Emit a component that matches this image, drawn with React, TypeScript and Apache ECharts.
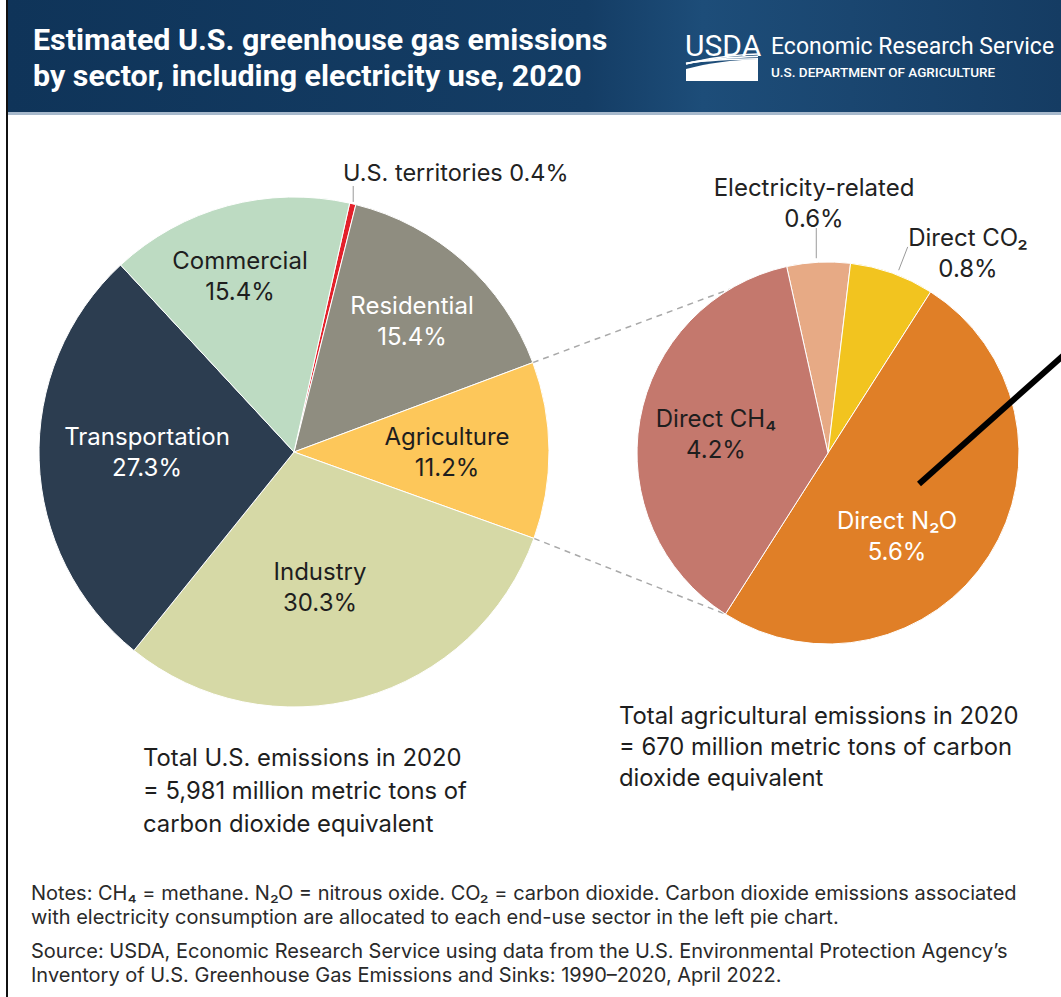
import React, { useEffect, useRef } from "react";
import * as echarts from "echarts";

// U.S. emissions by end-use sector, 2020 (percent of total)
const sectorNames = ["U.S. territories", "Residential", "Agriculture", "Industry", "Transportation", "Commercial"];
const sectorShares = [0.4, 15.4, 11.2, 30.3, 27.3, 15.4];
const sectorColors = ["#e3202a", "#8f8d80", "#fdc75a", "#d6d9a6", "#2c3d50", "#bddbc2"];
const sectorTextColors = ["#222222", "#ffffff", "#1e1e1e", "#1e1e1e", "#ffffff", "#1e1e1e"];

// Agricultural emissions by source, 2020 (percent of U.S. total)
const agriNames = ["Electricity-related", "Direct CO₂", "Direct N₂O", "Direct CH₄"];
const agriShares = [0.6, 0.8, 5.6, 4.2];
const agriColors = ["#e7aa85", "#f2c41f", "#e07f27", "#c4786d"];
const agriTextColors = ["#222222", "#222222", "#ffffff", "#1e1e1e"];

const totalUS = "5,981";
const totalAg = "670";

const titleLines = ["Estimated U.S. greenhouse gas emissions", "by sector, including electricity use, 2020"];
const noteLines = [
  "Notes: CH₄ = methane. N₂O = nitrous oxide. CO₂ = carbon dioxide. Carbon dioxide emissions associated",
  "with electricity consumption are allocated to each end-use sector in the left pie chart.",
];
const sourceLines = [
  "Source: USDA, Economic Research Service using data from the U.S. Environmental Protection Agency’s",
  "Inventory of U.S. Greenhouse Gas Emissions and Sinks: 1990–2020, April 2022.",
];

// pie geometry
const LEFT = { cx: 294, cy: 452, r: 255, start: 77.4 };
const RIGHT = { cx: 828, cy: 453, r: 191, start: 102.5 };

// label anchors for the in-slice labels (pixel centres)
const sectorLabelPos: ([number, number] | null)[] = [null, [412, 321], [447, 452], [320, 587], [147, 452], [240, 276]];
const agriLabelPos: ([number, number] | null)[] = [null, null, [897, 536], [716, 434]];

const FONT = "Inter, Roboto, 'Noto Sans', sans-serif";
const HEAD_FONT = "Roboto, 'Noto Sans', sans-serif";
const LABEL_SIZE = 24;

function fmt(v: number) {
  return v.toFixed(1) + "%";
}

// clockwise-from-top angle (deg) where cumulative share `cum` falls
function angleAt(pie: typeof LEFT, values: number[], cum: number) {
  const total = values.reduce((a, b) => a + b, 0);
  return 90 - pie.start + (360 * cum) / total;
}
function polar(pie: typeof LEFT, r: number, deg: number): [number, number] {
  const a = (deg * Math.PI) / 180;
  return [pie.cx + r * Math.sin(a), pie.cy - r * Math.cos(a)];
}
function cumBefore(values: number[], i: number) {
  return values.slice(0, i).reduce((a, b) => a + b, 0);
}

function text(x: number, y: number, str: string, size: number, color: string, opts: any = {}) {
  return {
    type: "text",
    x,
    y,
    z: 100,
    scaleX: opts.scaleX ?? 1,
    style: {
      text: str,
      x: 0,
      y: 0,
      fill: color,
      fontSize: size,
      fontFamily: opts.family ?? FONT,
      fontWeight: opts.weight ?? "normal",
      align: opts.align ?? "center",
      textAlign: opts.align ?? "center",
      verticalAlign: "middle",
      textVerticalAlign: "middle",
      lineHeight: opts.lineHeight ?? size * 1.3,
    },
  };
}

export default function App() {
  const ref = useRef<HTMLDivElement>(null);

  useEffect(() => {
    if (!ref.current) return;
    const chart = echarts.init(ref.current, undefined, { renderer: "svg" });

    echarts.graphic.registerShape(
      "usdaField",
      echarts.graphic.extendPath("M0,14 C22,8 46,5 72,4 L72,26 L0,26 Z", {})
    );

    const graphics: any[] = [];

    // frame and header band
    graphics.push({ type: "rect", z: 1, shape: { x: 6, y: 0, width: 2, height: 997 }, style: { fill: "#111" } });
    graphics.push({
      type: "rect",
      z: 1,
      shape: { x: 8, y: 0, width: 1053, height: 112 },
      style: {
        fill: new echarts.graphic.LinearGradient(0, 0, 1, 0, [
          { offset: 0, color: "#0f3459" },
          { offset: 0.55, color: "#143d65" },
          { offset: 0.66, color: "#1d4d79" },
          { offset: 0.8, color: "#1a4670" },
          { offset: 1, color: "#153c63" },
        ]),
      },
    });
    graphics.push({ type: "rect", z: 1, shape: { x: 8, y: 112, width: 1053, height: 3 }, style: { fill: "#a7b9cc" } });

    graphics.push(text(33, 39, titleLines[0], 30.4, "#ffffff", { align: "left", weight: "bold", family: HEAD_FONT }));
    graphics.push(text(33, 75, titleLines[1], 30.4, "#ffffff", { align: "left", weight: "bold", family: HEAD_FONT }));

    // USDA mark
    graphics.push(text(685, 45, "USDA", 30, "#ffffff", { align: "left", scaleX: 1, family: HEAD_FONT }));
    [0, 4, 8].forEach((d) =>
      graphics.push({
        type: "bezierCurve",
        z: 5,
        shape: { x1: 686, y1: 64 - d * 0.1, x2: 758, y2: 54 + d * 0.6, cpx1: 715, cpy1: 56 + d * 0.4 },
        style: { stroke: "#ffffff", lineWidth: 1.6, fill: "none" },
      })
    );
    graphics.push({ type: "usdaField", z: 5, x: 686, y: 55, style: { fill: "#ffffff" } });
    graphics.push(text(771, 46, "Economic Research Service", 23, "#ffffff", { align: "left", family: HEAD_FONT }));
    graphics.push(
      text(771, 72, "U.S. DEPARTMENT OF AGRICULTURE", 13.5, "#ffffff", { align: "left", weight: "500", family: HEAD_FONT })
    );

    // dashed connectors from the Agriculture slice to the breakdown pie
    const agStart = angleAt(LEFT, sectorShares, cumBefore(sectorShares, 2));
    const agEnd = angleAt(LEFT, sectorShares, cumBefore(sectorShares, 3));
    const n2oEnd = angleAt(RIGHT, agriShares, cumBefore(agriShares, 3));
    const pA = polar(LEFT, LEFT.r, agStart);
    const pB = polar(LEFT, LEFT.r, agEnd);
    const qA = polar(RIGHT, RIGHT.r, 329);
    const qB = polar(RIGHT, RIGHT.r, n2oEnd);
    [
      [pA, qA],
      [pB, qB],
    ].forEach(([p, q]) =>
      graphics.push({
        type: "line",
        z: 0,
        shape: { x1: p[0], y1: p[1], x2: q[0], y2: q[1] },
        style: { stroke: "#a9a9a9", lineWidth: 1.5, lineDash: [6, 5] },
      })
    );

    // in-slice labels
    sectorNames.forEach((n, i) => {
      const pos = sectorLabelPos[i];
      if (!pos) return;
      graphics.push(text(pos[0], pos[1], n + "\n" + fmt(sectorShares[i]), LABEL_SIZE, sectorTextColors[i], { lineHeight: 31 }));
    });
    agriNames.forEach((n, i) => {
      const pos = agriLabelPos[i];
      if (!pos) return;
      graphics.push(text(pos[0], pos[1], n + "\n" + fmt(agriShares[i]), LABEL_SIZE, agriTextColors[i], { lineHeight: 31 }));
    });

    // outside labels with leaders
    const terrMid = angleAt(LEFT, sectorShares, sectorShares[0] / 2);
    const t0 = polar(LEFT, LEFT.r + 2, terrMid);
    graphics.push({ type: "line", z: 5, shape: { x1: t0[0], y1: t0[1], x2: t0[0], y2: 186 }, style: { stroke: "#9a9a9a", lineWidth: 1 } });
    graphics.push(text(343, 172, sectorNames[0] + " " + fmt(sectorShares[0]), 23.5, sectorTextColors[0], { align: "left" }));

    const elMid = angleAt(RIGHT, agriShares, agriShares[0] / 2);
    const e0 = polar(RIGHT, RIGHT.r + 4, elMid);
    graphics.push({ type: "line", z: 5, shape: { x1: e0[0] - 2, y1: e0[1], x2: e0[0] - 2, y2: 228 }, style: { stroke: "#9a9a9a", lineWidth: 1 } });
    graphics.push(text(814, 203, agriNames[0] + "\n" + fmt(agriShares[0]), LABEL_SIZE, agriTextColors[0], { lineHeight: 31 }));

    const coMid = angleAt(RIGHT, agriShares, agriShares[0] + agriShares[1] / 2) + 1.5;
    const c0 = polar(RIGHT, RIGHT.r + 5, coMid);
    const c1 = polar(RIGHT, RIGHT.r + 30, coMid);
    graphics.push({ type: "line", z: 5, shape: { x1: c0[0], y1: c0[1], x2: c1[0], y2: c1[1] }, style: { stroke: "#9a9a9a", lineWidth: 1 } });
    graphics.push(text(968, 253, agriNames[1] + "\n" + fmt(agriShares[1]), LABEL_SIZE, agriTextColors[1], { lineHeight: 31 }));

    // totals
    graphics.push(
      text(143, 790, `Total U.S. emissions in 2020\n= ${totalUS} million metric tons of\ncarbon dioxide equivalent`, 23.8, "#1e1e1e", {
        align: "left",
        lineHeight: 33,
      })
    );
    graphics.push(
      text(619, 746, `Total agricultural emissions in 2020\n= ${totalAg} million metric tons of carbon\ndioxide equivalent`, 23.8, "#1e1e1e", {
        align: "left",
        lineHeight: 31,
      })
    );

    // notes and source
    graphics.push(text(31, 905, noteLines.join("\n"), 20, "#2a2a2a", { align: "left", lineHeight: 24 }));
    graphics.push(text(31, 963, sourceLines.join("\n"), 20, "#2a2a2a", { align: "left", lineHeight: 24 }));

    // pointer stroke over the N₂O slice
    graphics.push({ type: "line", z: 120, shape: { x1: 919, y1: 484, x2: 1066, y2: 353 }, style: { stroke: "#000", lineWidth: 6 } });

    const pieBase = {
      type: "pie",
      silent: true,
      label: { show: false },
      labelLine: { show: false },
      emphasis: { disabled: true },
      itemStyle: { borderColor: "#ffffff", borderWidth: 1 },
      avoidLabelOverlap: false,
      z: 2,
    };

    chart.setOption({
      animation: false,
      backgroundColor: "#ffffff",
      series: [
        {
          ...pieBase,
          center: [LEFT.cx, LEFT.cy],
          radius: LEFT.r,
          startAngle: LEFT.start,
          data: sectorNames.map((n, i) => ({ name: n, value: sectorShares[i], itemStyle: { color: sectorColors[i] } })),
        },
        {
          ...pieBase,
          center: [RIGHT.cx, RIGHT.cy],
          radius: RIGHT.r,
          startAngle: RIGHT.start,
          data: agriNames.map((n, i) => ({ name: n, value: agriShares[i], itemStyle: { color: agriColors[i] } })),
        },
      ],
      graphic: { elements: graphics },
    });

    return () => chart.dispose();
  }, []);

  return (
    <div
      ref={ref}
      style={{ position: "absolute", left: 0, top: 0, width: 1061, height: 997, background: "#ffffff" }}
    />
  );
}
